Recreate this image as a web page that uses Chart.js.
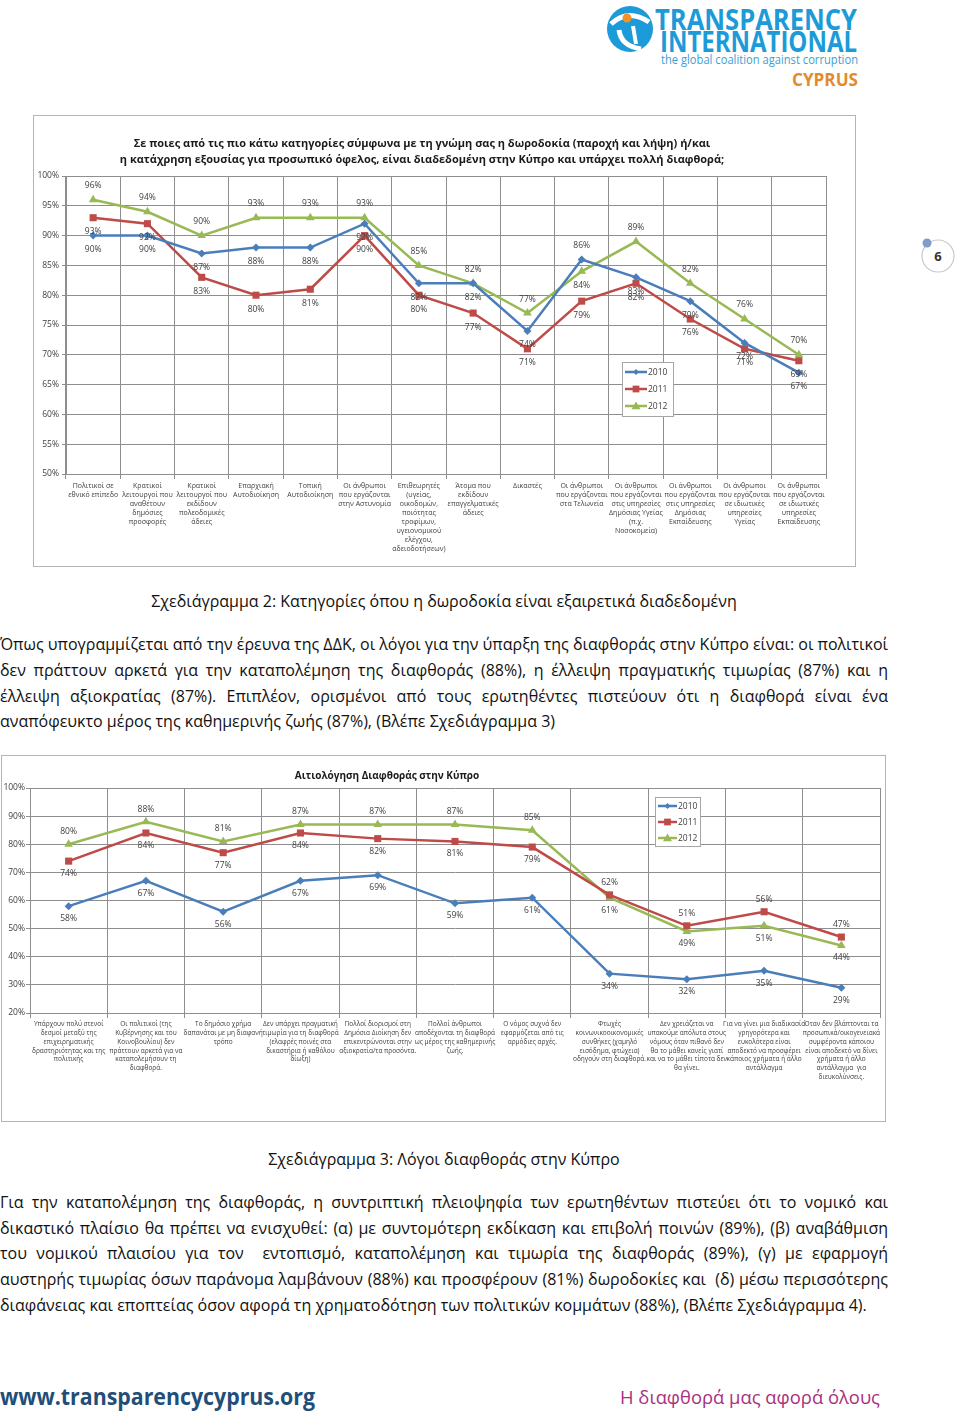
<!DOCTYPE html>
<html>
<head>
<meta charset="utf-8">
<script src="https://cdn.jsdelivr.net/npm/chart.js@4/dist/chart.umd.min.js"></script>
<style>
  body { margin: 0; background: #fff; font-family: 'Open Sans', sans-serif; }
  #page { position: relative; width: 960px; height: 1415px; overflow: hidden; }
  .frame { position: absolute; border: 1px solid #b4b4b4; background: #fff; }
  .frame canvas { position: absolute; left: 0; top: 0; }
  .line { position: absolute; left: 0; width: 888px; height: 26px; line-height: 26px;
          font-size: 16px; color: #111; white-space: nowrap; text-align: justify; text-align-last: justify; }
  .line.last { text-align: left; text-align-last: left; }
  .caption { position: absolute; left: 0; width: 888px; text-align: center; font-size: 16px; color: #111; line-height: 26px; }
</style>
</head>
<body>
<div id="page">
  <svg style="position:absolute;left:0;top:0" width="960" height="100">
    <circle cx="630" cy="29" r="23" fill="#1c9bd8"/>
    <path d="M611 24 Q628 8 649 22" stroke="#fff" stroke-width="5" fill="none"/>
    <path d="M619 30 Q621 46 641 49" stroke="#fff" stroke-width="5" fill="none"/>
    <path d="M633 26 L636 44" stroke="#fff" stroke-width="4" fill="none"/>
    <circle cx="627" cy="18" r="4.5" fill="#f39223"/>
    <text x="655" y="30" font-family="Open Sans" font-weight="bold" font-size="29" fill="#1c9bd8" textLength="202" lengthAdjust="spacingAndGlyphs">TRANSPARENCY</text>
    <text x="660" y="52" font-family="Open Sans" font-weight="bold" font-size="29" fill="#1c9bd8" textLength="197" lengthAdjust="spacingAndGlyphs">INTERNATIONAL</text>
    <text x="661" y="64" font-family="Open Sans" font-size="12.5" fill="#3d9fd3" textLength="197" lengthAdjust="spacingAndGlyphs">the global coalition against corruption</text>
    <text x="792" y="86" font-family="Open Sans" font-weight="bold" font-size="18" fill="#e38b2c" textLength="66" lengthAdjust="spacingAndGlyphs">CYPRUS</text>
  </svg>

  <svg style="position:absolute;left:900px;top:220px" width="60" height="70">
    <circle cx="38" cy="36" r="16" fill="#fff" stroke="#c9c9c9" stroke-width="1.2"/>
    <circle cx="27" cy="23" r="4.5" fill="#7f9dc8"/>
    <text x="38" y="41" text-anchor="middle" font-family="Open Sans" font-weight="bold" font-size="13" fill="#333">6</text>
  </svg>

  <div class="frame" style="left:33px;top:115px;width:821px;height:450px">
    <canvas id="chart1" width="821" height="450"></canvas>
  </div>

  <div class="caption" style="top:588px">Σχεδιάγραμμα 2: Κατηγορίες όπου η δωροδοκία είναι εξαιρετικά διαδεδομένη</div>

  <div class="line" style="top:631px">Όπως υπογραμμίζεται από την έρευνα της ΔΔΚ, οι λόγοι για την ύπαρξη της διαφθοράς στην Κύπρο είναι: οι πολιτικοί</div>
  <div class="line" style="top:657px">δεν πράττουν αρκετά για την καταπολέμηση της διαφθοράς (88%), η έλλειψη πραγματικής τιμωρίας (87%) και η</div>
  <div class="line" style="top:683px">έλλειψη αξιοκρατίας (87%). Επιπλέον, ορισμένοι από τους ερωτηθέντες πιστεύουν ότι η διαφθορά είναι ένα</div>
  <div class="line last" style="top:708px">αναπόφευκτο μέρος της καθημερινής ζωής (87%), (Βλέπε Σχεδιάγραμμα 3)</div>

  <div class="frame" style="left:1px;top:755px;width:883px;height:365px">
    <canvas id="chart2" width="883" height="365"></canvas>
  </div>

  <div class="caption" style="top:1146px">Σχεδιάγραμμα 3: Λόγοι διαφθοράς στην Κύπρο</div>

  <div class="line" style="top:1189px">Για την καταπολέμηση της διαφθοράς, η συντριπτική πλειοψηφία των ερωτηθέντων πιστεύει ότι το νομικό και</div>
  <div class="line" style="top:1215px">δικαστικό πλαίσιο θα πρέπει να ενισχυθεί: (α) με συντομότερη εκδίκαση και επιβολή ποινών (89%), (β) αναβάθμιση</div>
  <div class="line" style="top:1240px">του νομικού πλαισίου για τον&nbsp; εντοπισμό, καταπολέμηση και τιμωρία της διαφθοράς (89%), (γ) με εφαρμογή</div>
  <div class="line" style="top:1266px">αυστηρής τιμωρίας όσων παράνομα λαμβάνουν (88%) και προσφέρουν (81%) δωροδοκίες και&nbsp; (δ) μέσω περισσότερης</div>
  <div class="line last" style="top:1292px">διαφάνειας και εποπτείας όσον αφορά τη χρηματοδότηση των πολιτικών κομμάτων (88%), (Βλέπε Σχεδιάγραμμα 4).</div>

  <svg style="position:absolute;left:0;top:1375px" width="960" height="40">
    <text x="0" y="30" font-family="Open Sans" font-weight="bold" font-size="23" fill="#1f4e79" textLength="315" lengthAdjust="spacingAndGlyphs">www.transparencycyprus.org</text>
    <text x="620" y="29" font-family="Open Sans" font-size="19" fill="#a8307f" textLength="260" lengthAdjust="spacingAndGlyphs">Η διαφθορά μας αφορά όλους</text>
  </svg>
</div>

<script>
// chart 1 - categories and values per year
const categories1 = [
  ["Πολιτικοί σε", "εθνικό επίπεδο"],
  ["Κρατικοί", "λειτουργοί που", "αναθέτουν", "δημόσιες", "προσφορές"],
  ["Κρατικοί", "λειτουργοί που", "εκδίδουν", "πολεοδομικές", "άδειες"],
  ["Επαρχιακή", "Αυτοδιοίκηση"],
  ["Τοπική", "Αυτοδιοίκηση"],
  ["Οι άνθρωποι", "που εργάζονται", "στην Αστυνομία"],
  ["Επιθεωρητές", "(υγείας,", "οικοδομών,", "ποιότητας", "τροφίμων,", "υγειονομικού", "ελέγχου,", "αδειοδοτήσεων)"],
  ["Άτομα που", "εκδίδουν", "επαγγελματικές", "άδειες"],
  ["Δικαστές"],
  ["Οι άνθρωποι", "που εργάζονται", "στα Τελωνεία"],
  ["Οι άνθρωποι", "που εργάζονται", "στις υπηρεσίες", "Δημόσιας Υγείας", "(π.χ.", "Νοσοκομεία)"],
  ["Οι άνθρωποι", "που εργάζονται", "στις υπηρεσίες", "Δημόσιας", "Εκπαίδευσης"],
  ["Οι άνθρωποι", "που εργάζονται", "σε ιδιωτικές", "υπηρεσίες", "Υγείας"],
  ["Οι άνθρωποι", "που εργάζονται", "σε ιδιωτικές", "υπηρεσίες", "Εκπαίδευσης"]
];
const bribery2010 = [90, 90, 87, 88, 88, 92, 82, 82, 74, 86, 83, 79, 72, 67];
const bribery2011 = [93, 92, 83, 80, 81, 90, 80, 77, 71, 79, 82, 76, 71, 69];
const bribery2012 = [96, 94, 90, 93, 93, 93, 85, 82, 77, 84, 89, 82, 76, 70];

// chart 2
const categories2 = [
  ["Υπάρχουν πολύ στενοί", "δεσμοί μεταξύ της", "επιχειρηματικής", "δραστηριότητας και της", "πολιτικής"],
  ["Οι πολιτικοί (της", "Κυβέρνησης και του", "Κοινοβουλίου) δεν", "πράττουν αρκετά για να", "καταπολεμήσουν τη", "διαφθορά."],
  ["Το δημόσιο χρήμα", "δαπανάται με μη διαφανή", "τρόπο"],
  ["Δεν υπάρχει πραγματική", "τιμωρία για τη διαφθορά", "(ελαφρές ποινές στα", "δικαστήρια ή καθόλου", "δίωξη)"],
  ["Πολλοί διορισμοί στη", "Δημόσια Διοίκηση δεν", "επικεντρώνονται στην", "αξιοκρατία/τα προσόντα."],
  ["Πολλοί άνθρωποι", "αποδέχονται τη διαφθορά", "ως μέρος της καθημερινής", "ζωής."],
  ["Ο νόμος συχνά δεν", "εφαρμόζεται από τις", "αρμόδιες αρχές."],
  ["Φτωχές", "κοινωνικοοικονομικές", "συνθήκες (χαμηλό", "εισόδημα, φτώχεια)", "οδηγούν στη διαφθορά."],
  ["Δεν χρειάζεται να", "υπακούμε απόλυτα στους", "νόμους όταν πιθανό δεν", "θα το μάθει κανείς γιατί", "και να το μάθει τίποτα δεν", "θα γίνει."],
  ["Για να γίνει μια διαδικασία", "γρηγορότερα και", "ευκολότερα είναι", "αποδεκτό να προσφέρει", "κάποιος χρήματα ή άλλο", "αντάλλαγμα"],
  ["Όταν δεν βλάπτονται τα", "προσωπικά/οικογενειακά", "συμφέροντα κάποιου", "είναι αποδεκτό να δίνει", "χρήματα ή άλλο", "αντάλλαγμα  για", "διευκολύνσεις."]
];
const reasons2010 = [58, 67, 56, 67, 69, 59, 61, 34, 32, 35, 29];
const reasons2011 = [74, 84, 77, 84, 82, 81, 79, 62, 51, 56, 47];
const reasons2012 = [80, 88, 81, 87, 87, 87, 85, 61, 49, 51, 44];

const years = ["2010", "2011", "2012"];
const blue = "#4a7ebb", red = "#be4b48", green = "#98b954";
const textColor = "#404040";
const gridColor = "#8e8e8e";

Chart.defaults.font.family = "'Open Sans', sans-serif";
Chart.defaults.color = textColor;

// squeeze body lines a little if they don't fit the justified width
document.querySelectorAll(".line").forEach((el) => {
  let ls = 0;
  while (el.scrollWidth > 888 && ls > -1) {
    ls -= 0.05;
    el.style.letterSpacing = ls + "px";
  }
});

function marker(ctx, style, x, y, r) {
  ctx.beginPath();
  if (style === "rect") {
    ctx.rect(x - r * 0.75, y - r * 0.75, r * 1.5, r * 1.5);
  } else if (style === "triangle") {
    ctx.moveTo(x, y - r);
    ctx.lineTo(x + r, y + r * 0.7);
    ctx.lineTo(x - r, y + r * 0.7);
    ctx.closePath();
  } else {
    ctx.moveTo(x, y - r);
    ctx.lineTo(x + r, y);
    ctx.lineTo(x, y + r);
    ctx.lineTo(x - r, y);
    ctx.closePath();
  }
  ctx.fill();
}

// value labels: top series of a category goes above its point, the rest below
const pctLabels = {
  id: "pctLabels",
  afterDatasetsDraw(chart, args, opts) {
    const ctx = chart.ctx;
    const sets = chart.data.datasets;
    ctx.save();
    ctx.font = opts.size + "px 'Open Sans'";
    ctx.fillStyle = textColor;
    ctx.textAlign = "center";
    ctx.textBaseline = "middle";
    chart.data.labels.forEach((_, i) => {
      let top = 0;
      sets.forEach((ds, d) => {
        if (ds.data[i] >= sets[top].data[i]) top = d;
      });
      sets.forEach((ds, d) => {
        const pt = chart.getDatasetMeta(d).data[i];
        const dy = d === top ? -opts.offset : opts.offset;
        ctx.fillText(ds.data[i] + "%", pt.x, pt.y + dy);
      });
    });
    ctx.restore();
  }
};

const fixedTitle = {
  id: "fixedTitle",
  afterDraw(chart, args, o) {
    const ctx = chart.ctx;
    ctx.save();
    ctx.font = "bold " + o.size + "px 'Open Sans'";
    ctx.fillStyle = "#1a1a1a";
    ctx.textAlign = "center";
    ctx.textBaseline = "middle";
    o.lines.forEach((t, i) => ctx.fillText(t, o.x, o.y + i * o.lh));
    ctx.restore();
  }
};

const boxLegend = {
  id: "boxLegend",
  afterDraw(chart, args, o) {
    const ctx = chart.ctx;
    ctx.save();
    ctx.fillStyle = "#fff";
    ctx.fillRect(o.x, o.y, o.w, o.h);
    ctx.strokeStyle = "#a6a6a6";
    ctx.lineWidth = 1;
    ctx.strokeRect(o.x + 0.5, o.y + 0.5, o.w, o.h);
    ctx.font = o.size + "px 'Open Sans'";
    ctx.textBaseline = "middle";
    chart.data.datasets.forEach((ds, d) => {
      const y = o.y + o.first + d * o.step;
      const x0 = o.x + 3;
      ctx.strokeStyle = ds.borderColor;
      ctx.lineWidth = 2.5;
      ctx.beginPath();
      ctx.moveTo(x0, y);
      ctx.lineTo(x0 + o.line, y);
      ctx.stroke();
      ctx.fillStyle = ds.borderColor;
      marker(ctx, ds.pointStyle, x0 + o.line / 2, y, ds.pointStyle === "rectRot" ? 3 : 4.5);
      ctx.fillStyle = textColor;
      ctx.fillText(ds.label, x0 + o.line + 1, y + 0.5);
    });
    ctx.restore();
  }
};

function series(label, data, color, style, r) {
  return {
    label, data,
    borderColor: color, backgroundColor: color,
    borderWidth: 2.5,
    pointStyle: style, pointRadius: r, pointHoverRadius: r,
    pointBorderWidth: 0,
    tension: 0
  };
}

function makeChart(id, labels, data, cfg) {
  return new Chart(document.getElementById(id), {
    type: "line",
    data: {
      labels,
      datasets: [
        series(years[0], data[0], blue, "rectRot", 4),
        series(years[1], data[1], red, "rect", 5),
        series(years[2], data[2], green, "triangle", 5)
      ]
    },
    options: {
      responsive: false,
      animation: false,
      layout: { padding: { left: 0, right: cfg.padRight, top: cfg.padTop, bottom: 0 } },
      plugins: {
        legend: { display: false },
        tooltip: { enabled: false },
        pctLabels: { size: cfg.labelSize, offset: cfg.labelOffset },
        fixedTitle: cfg.title,
        boxLegend: cfg.legend
      },
      scales: {
        x: {
          offset: true,
          grid: { offset: true, color: gridColor, lineWidth: 1, tickLength: 5 },
          border: { color: gridColor },
          ticks: {
            autoSkip: false, maxRotation: 0, minRotation: 0, padding: 2,
            font: { size: cfg.xFont, lineHeight: cfg.xLine }
          },
          afterFit: (s) => { s.height = cfg.xHeight; }
        },
        y: {
          min: cfg.yMin, max: 100,
          grid: { color: gridColor, lineWidth: 1, tickLength: 4 },
          border: { color: gridColor },
          ticks: {
            stepSize: cfg.yStep, padding: cfg.yPad,
            font: { size: 8.5 },
            callback: (v) => v + "%"
          },
          afterFit: (s) => { s.width = cfg.yWidth; }
        }
      }
    },
    plugins: [pctLabels, fixedTitle, boxLegend]
  });
}

makeChart("chart1", categories1, [bribery2010, bribery2011, bribery2012], {
  padRight: 29, padTop: 60, xHeight: 92, yWidth: 32, yMin: 50, yStep: 5, yPad: 3,
  xFont: 7, xLine: 1.3, labelSize: 8.5, labelOffset: 14,
  title: {
    size: 11, x: 388, y: 28, lh: 16,
    lines: [
      "Σε ποιες από τις πιο κάτω κατηγορίες σύμφωνα με τη γνώμη σας η δωροδοκία (παροχή και λήψη) ή/και",
      "η κατάχρηση εξουσίας για προσωπικό όφελος, είναι διαδεδομένη στην Κύπρο και υπάρχει πολλή διαφθορά;"
    ]
  },
  legend: { x: 588, y: 246, w: 51, h: 54, first: 10, step: 17, line: 22, size: 8.5 }
});

makeChart("chart2", categories2, [reasons2010, reasons2011, reasons2012], {
  padRight: 1, padTop: 32, xHeight: 108, yWidth: 28, yMin: 20, yStep: 10, yPad: 1,
  xFont: 6.5, xLine: 1.35, labelSize: 8.5, labelOffset: 12.5,
  title: { size: 10, x: 385, y: 20, lh: 14, lines: ["Αιτιολόγηση Διαφθοράς στην Κύπρο"] },
  legend: { x: 653, y: 41, w: 45, h: 49, first: 9, step: 16, line: 19, size: 8.5 }
});
</script>
</body>
</html>
